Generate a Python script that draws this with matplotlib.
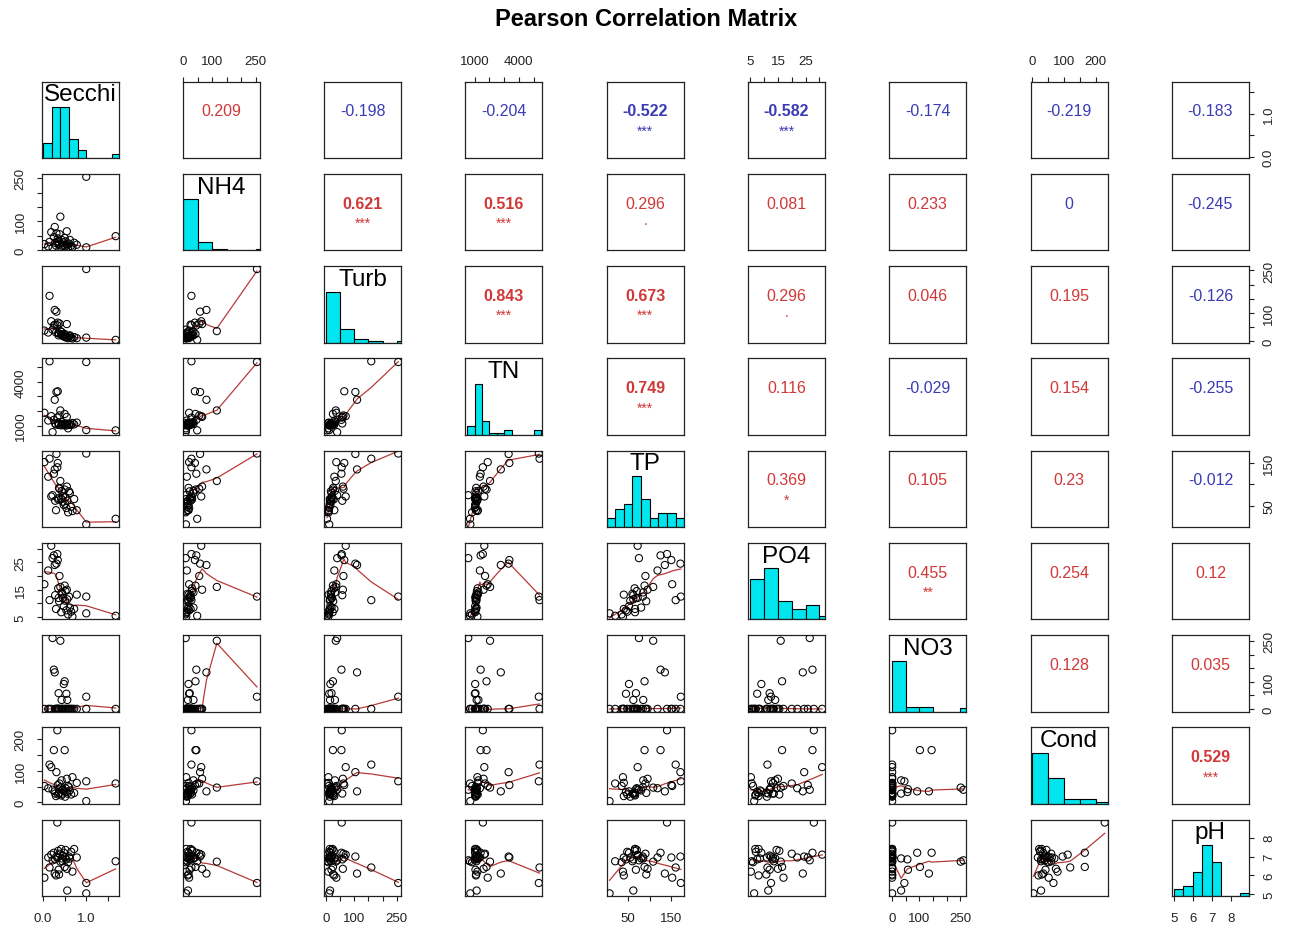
import numpy as np
import matplotlib
matplotlib.use("Agg")
import matplotlib.pyplot as plt

plt.rcParams["font.family"] = ["Liberation Sans", "DejaVu Sans"]

# ---- water-quality observations (38 sites) ----
names = ["Secchi", "NH4", "Turb", "TN", "TP", "PO4", "NO3", "Cond", "pH"]

secchi = [0.03, 0.12, 0.15, 0.19, 0.22, 0.25, 0.27, 0.28, 0.30, 0.31, 0.33, 0.34, 0.35,
          0.36, 0.37, 0.38, 0.40, 0.42, 0.43, 0.45, 0.46, 0.48, 0.50, 0.51, 0.52, 0.54,
          0.55, 0.56, 0.58, 0.60, 0.62, 0.65, 0.68, 0.72, 0.78, 1.00, 1.00, 1.68]
nh4 = [20, 12, 28, 62, 8, 45, 80, 25, 15, 58, 28, 40, 30, 22, 18, 55, 116, 10, 35, 14,
       26, 18, 42, 12, 30, 20, 65, 16, 8, 22, 35, 14, 10, 25, 18, 255, 9, 48]
turb = [37, 30, 160, 70, 40, 55, 110, 58, 30, 104, 56, 65, 28, 20, 26, 62, 35, 24, 32,
        18, 22, 16, 25, 14, 20, 12, 60, 15, 10, 18, 20, 12, 9, 14, 10, 255, 12, 4]
tn = [1880, 1350, 5400, 1650, 560, 1400, 2770, 1150, 1080, 3300, 1550, 3350, 1200,
      1050, 1100, 1700, 2040, 1020, 1250, 1120, 1080, 1030, 1800, 1060, 1150, 1010,
      1600, 1130, 820, 1050, 1120, 1040, 1180, 1090, 1210, 5350, 700, 680]
tp = [152, 118, 160, 72, 75, 125, 135, 62, 40, 171, 140, 150, 65, 68, 92, 90, 108, 66,
      85, 60, 72, 52, 88, 55, 70, 45, 95, 62, 35, 84, 80, 48, 38, 66, 40, 172, 7, 20]
po4 = [17.0, 22.0, 11.2, 31.0, 26.5, 27.5, 24.0, 13.0, 8.0, 24.5, 28.0, 25.8, 15.5,
       12.0, 10.8, 20.0, 16.0, 6.8, 14.0, 13.5, 12.0, 9.0, 16.5, 11.0, 14.5, 7.5, 15.0,
       11.5, 6.0, 12.5, 8.5, 7.0, 5.2, 8.0, 13.2, 12.5, 6.4, 5.5]
no3 = [0, 0, 0, 0, 262, 145, 135, 0, 0, 0, 0, 0, 0, 58, 0, 0, 252, 0, 33, 0, 0, 92,
       102, 0, 0, 56, 0, 33, 0, 0, 0, 0, 0, 0, 0, 45, 0, 0]
cond = [52, 45, 120, 112, 40, 166, 35, 28, 20, 96, 229, 55, 25, 42, 30, 60, 47, 22, 70,
        28, 40, 35, 166, 18, 45, 33, 75, 28, 52, 48, 38, 25, 80, 30, 62, 67, 4, 60]
ph = [5.88, 6.95, 6.42, 7.10, 6.80, 7.20, 6.10, 6.85, 6.00, 7.00, 8.80, 6.95, 7.30,
      6.30, 6.05, 7.15, 6.73, 7.40, 6.90, 6.75, 7.05, 7.20, 6.45, 6.95, 7.35, 6.85,
      6.35, 5.20, 6.70, 7.00, 6.90, 7.25, 6.20, 7.40, 6.95, 5.60, 5.05, 6.75]

# histogram bin widths per variable
bin_width = [0.2, 50, 50, 500, 20, 5, 50, 50, 0.5]

# axis ticks and their labels
ticks = [[0.0, 0.5, 1.0, 1.5],
         [0, 50, 100, 150, 200, 250],
         [0, 50, 100, 150, 200, 250],
         [1000, 2000, 3000, 4000, 5000],
         [50, 100, 150],
         [5, 10, 15, 20, 25, 30],
         [0, 50, 100, 150, 200, 250],
         [0, 50, 100, 150, 200],
         [5, 6, 7, 8]]
tick_labels = [["0.0", "", "1.0", ""],
               ["0", "", "100", "", "", "250"],
               ["0", "", "100", "", "", "250"],
               ["1000", "", "", "4000", ""],
               ["50", "", "150"],
               ["5", "", "15", "", "25", ""],
               ["0", "", "100", "", "", "250"],
               ["0", "", "100", "", "200"],
               ["5", "6", "7", "8"]]

# Pearson coefficients (upper triangle, row by row) and significance codes
cor_values = [0.209, -0.198, -0.204, -0.522, -0.582, -0.174, -0.219, -0.183,
              0.621, 0.516, 0.296, 0.081, 0.233, -0.0004, -0.245,
              0.843, 0.673, 0.296, 0.046, 0.195, -0.126,
              0.749, 0.116, -0.029, 0.154, -0.255,
              0.369, 0.105, 0.23, -0.012,
              0.455, 0.254, 0.12,
              0.128, 0.035,
              0.529]
cor_stars = ["", "", "", "***", "***", "", "", "",
             "***", "***", ".", "", "", "", "",
             "***", "***", ".", "", "", "",
             "***", "", "", "", "",
             "*", "", "", "",
             "**", "", "",
             "", "",
             "***"]

data = [np.asarray(v, float) for v in (secchi, nh4, turb, tn, tp, po4, no3, cond, ph)]
nv = len(names)


def lowess(x, y, f=2 / 3, iters=3):
    """Locally weighted scatterplot smoothing (Cleveland), as in R's lowess."""
    o = np.argsort(x, kind="mergesort")
    x = np.asarray(x, float)[o]
    y = np.asarray(y, float)[o]
    n = len(x)
    ns = max(2, min(n, int(f * n + 1e-7)))
    rw = np.ones(n)
    fit = np.zeros(n)
    for it in range(iters + 1):
        for i in range(n):
            d = np.abs(x - x[i])
            h = np.sort(d)[ns - 1]
            if h <= 0:
                w = (d <= 0).astype(float)
            else:
                u = d / h
                w = np.where(u <= 0.999, (1 - np.clip(u, 0, 1) ** 3) ** 3, 0.0)
                w[u <= 0.001] = 1.0
            w = w * rw
            sw = w.sum()
            if sw <= 0:
                fit[i] = y[i]
                continue
            w = w / sw
            xm = np.sum(w * x)
            vx = np.sum(w * (x - xm) ** 2)
            ym = np.sum(w * y)
            if vx > 1e-12 * max((x[-1] - x[0]) ** 2, 1e-12):
                b = np.sum(w * (x - xm) * (y - ym)) / vx
                fit[i] = ym + b * (x[i] - xm)
            else:
                fit[i] = ym
        if it == iters:
            break
        res = y - fit
        cmad = 6 * np.median(np.abs(res))
        if cmad < 1e-7 * np.mean(np.abs(y)):
            break
        u = np.abs(res) / cmad
        rw = np.where(u <= 0.999, (1 - np.clip(u, 0, 1) ** 2) ** 2, 0.0)
        rw[u <= 0.001] = 1.0
    return x, fit


def limits(v):
    lo, hi = v.min(), v.max()
    r = hi - lo
    return lo - 0.04 * r, hi + 0.04 * r


lims = [limits(v) for v in data]

W, H = 1293, 929
fig = plt.figure(figsize=(W / 100, H / 100), dpi=100)

col_left = 41.5
col_step = 141.3
row_top = 82.7
row_step = 92.25
pw, ph_ = 77.0, 76.5

pos_color = "#D13838"
neg_color = "#3B3BB5"
frame_color = "#222222"
tick_len = 3.6       # points
tick_kw = dict(direction="out", length=tick_len, width=0.8, labelsize=9.5,
               colors=frame_color)

k = 0
cor_lookup = {}
for i in range(nv):
    for j in range(i + 1, nv):
        cor_lookup[(i, j)] = (cor_values[k], cor_stars[k])
        k += 1

for i in range(nv):
    for j in range(nv):
        x0 = col_left + j * col_step
        y0 = row_top + i * row_step
        ax = fig.add_axes([x0 / W, 1 - (y0 + ph_) / H, pw / W, ph_ / H])
        ax.set_xlim(*lims[j])
        if i == j:
            v = data[i]
            w = bin_width[i]
            lo = np.floor(v.min() / w + 1e-9) * w
            hi = np.ceil(v.max() / w - 1e-9) * w
            edges = np.arange(lo, hi + w / 2, w)
            idx = np.searchsorted(edges, v, side="left") - 1
            idx[idx < 0] = 0
            counts = np.bincount(idx, minlength=len(edges) - 1)
            ax.bar(edges[:-1], counts / counts.max(), width=w, align="edge",
                   color="#00E5EE", edgecolor="black", linewidth=0.8)
            ax.set_ylim(0, 1.5)
            ax.text(0.5, 0.833, names[i], transform=ax.transAxes, ha="center",
                    va="center", fontsize=17.5)
        elif i > j:
            ax.set_ylim(*lims[i])
            ax.scatter(data[j], data[i], s=27, facecolors="none", edgecolors="black",
                       linewidths=0.75, zorder=3)
            sx, sy = lowess(data[j], data[i])
            ax.plot(sx, sy, color="#B83A36", linewidth=0.9, zorder=2)
        else:
            ax.set_ylim(*lims[i])
            r, st = cor_lookup[(i, j)]
            rr = round(r, 3) + 0.0
            txt = "%g" % rr
            colr = neg_color if r < 0 else pos_color
            bold = st == "***"
            ax.text(0.5, 0.62, txt, transform=ax.transAxes, ha="center", va="center",
                    fontsize=11.5, color=colr, fontweight="bold" if bold else "normal")
            if st == ".":
                ax.text(0.5, 0.40, st, transform=ax.transAxes, ha="center",
                        va="center", fontsize=10, color=colr)
            elif st:
                ax.text(0.5, 0.36, st, transform=ax.transAxes, ha="center",
                        va="center", fontsize=10, color=colr)

        for s in ax.spines.values():
            s.set_linewidth(0.9)
            s.set_color(frame_color)

        show_top = (i == 0 and j % 2 == 1)
        show_bottom = (i == nv - 1 and j % 2 == 0)
        show_left = (j == 0 and i % 2 == 1)
        show_right = (j == nv - 1 and i % 2 == 0)

        if show_top or show_bottom:
            ax.set_xticks(ticks[j])
            ax.set_xticklabels(tick_labels[j])
        else:
            ax.set_xticks([])
        ax.tick_params(axis="x", top=show_top, labeltop=show_top,
                       bottom=show_bottom, labelbottom=show_bottom,
                       pad=8.0 if show_bottom else 6.8, **tick_kw)
        if i != j and (show_left or show_right):
            ax.set_yticks(ticks[i])
            ax.set_yticklabels(tick_labels[i])
        elif i == j and show_right:
            # diagonal histogram uses its own vertical scale; ticks follow the variable
            ax2 = ax.twinx()
            ax2.set_ylim(*lims[i])
            ax2.set_yticks(ticks[i])
            ax2.set_yticklabels(tick_labels[i])
            ax2.tick_params(axis="y", right=True, labelright=True, left=False,
                            labelleft=False, pad=6.5, labelrotation=90, **tick_kw)
            for lab in ax2.get_yticklabels():
                lab.set_va("center")
            for s in ax2.spines.values():
                s.set_visible(False)
            ax.set_yticks([])
        else:
            ax.set_yticks([])
        ax.tick_params(axis="y", left=show_left, labelleft=show_left,
                       right=show_right and i != j, labelright=show_right and i != j,
                       pad=7.2 if show_left else 6.5, labelrotation=90, **tick_kw)
        for lab in ax.get_yticklabels():
            lab.set_va("center")

fig.text(0.5, 1 - 19 / H, "Pearson Correlation Matrix", ha="center", va="center",
         fontsize=17, fontweight="bold")

fig.savefig("out.png", dpi=100)
